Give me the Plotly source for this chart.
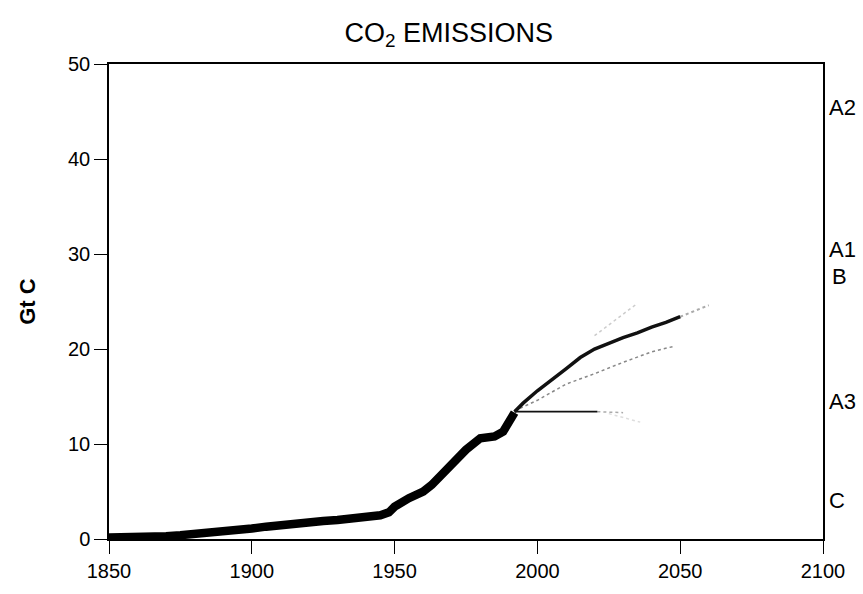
import plotly.graph_objects as go

# Historical emissions (Gt C)
hist_years = [1850, 1855, 1860, 1865, 1870, 1875, 1880, 1885, 1890, 1895, 1900, 1905,
              1910, 1915, 1920, 1925, 1930, 1935, 1940, 1945, 1948, 1950, 1955, 1960,
              1963, 1965, 1970, 1975, 1980, 1983, 1985, 1988, 1990, 1992]
hist_vals = [0.15, 0.15, 0.2, 0.25, 0.3, 0.4, 0.5, 0.6, 0.75, 0.9, 1.1, 1.3,
             1.5, 1.6, 1.8, 1.9, 2.0, 2.1, 2.3, 2.5, 2.8, 3.4, 4.3, 5.0,
             5.7, 6.3, 8.1, 9.4, 10.6, 10.7, 10.8, 11.3, 12.3, 13.3]

# Main projection (solid)
main_years = [1992, 1995, 2000, 2005, 2010, 2015, 2020, 2025, 2030, 2035, 2040, 2045, 2050]
main_vals = [13.4, 14.3, 15.6, 16.7, 17.9, 19.1, 20.0, 20.6, 21.2, 21.7, 22.3, 22.8, 23.4]
main_faint_years = [2050, 2055, 2060]
main_faint_vals = [23.4, 24.0, 24.6]

# Middle (dotted) projection
mid_years = [1992, 2000, 2010, 2020, 2030, 2040, 2048]
mid_vals = [13.5, 14.6, 16.3, 17.4, 18.6, 19.7, 20.3]

# Flat projection
flat_years = [1992, 2021]
flat_vals = [13.4, 13.4]
flat_faint_years = [2021, 2030]
flat_faint_vals = [13.4, 13.3]

# Faint upper projection
up_years = [2020, 2028, 2035]
up_vals = [21.4, 23.2, 24.8]

# Faint lower projection
low_years = [2025, 2036]
low_vals = [13.2, 12.3]

# Scenario labels on right
scen_labels = ["A2", "A1", "B", "A3", "C"]
scen_y = [45.4, 30.5, 27.6, 14.5, 4.1]

x_ticks = [1850, 1900, 1950, 2000, 2050, 2100]
y_ticks = [0, 10, 20, 30, 40, 50]

FONT = "Liberation Sans, Arial, Helvetica, sans-serif"
fig = go.Figure()

fig.add_trace(go.Scatter(x=up_years, y=up_vals, mode="lines",
                         line=dict(color="#cccccc", width=1.5, dash="dot"), showlegend=False))
fig.add_trace(go.Scatter(x=low_years, y=low_vals, mode="lines",
                         line=dict(color="#dddddd", width=1.5, dash="dot"), showlegend=False))
fig.add_trace(go.Scatter(x=mid_years, y=mid_vals, mode="lines",
                         line=dict(color="#888888", width=1.5, dash="dot"), showlegend=False))
fig.add_trace(go.Scatter(x=flat_faint_years, y=flat_faint_vals, mode="lines",
                         line=dict(color="#aaaaaa", width=1.5, dash="dot"), showlegend=False))
fig.add_trace(go.Scatter(x=flat_years, y=flat_vals, mode="lines",
                         line=dict(color="#111111", width=1.8), showlegend=False))
fig.add_trace(go.Scatter(x=main_faint_years, y=main_faint_vals, mode="lines",
                         line=dict(color="#aaaaaa", width=2, dash="dot"), showlegend=False))
fig.add_trace(go.Scatter(x=main_years, y=main_vals, mode="lines",
                         line=dict(color="#111111", width=3.5), showlegend=False))
fig.add_trace(go.Scatter(x=hist_years, y=hist_vals, mode="lines",
                         line=dict(color="#000000", width=8.5), showlegend=False))

for lab, yv in zip(scen_labels, scen_y):
    fig.add_annotation(x=1, xref="paper", y=yv, yref="y", text=lab, showarrow=False,
                       xanchor="left", xshift=4 if lab != "B" else 7, yanchor="middle",
                       font=dict(family=FONT, size=22, color="#000"))

fig.update_layout(
    width=863, height=594,
    margin=dict(l=109, r=40, t=64, b=49),
    paper_bgcolor="white", plot_bgcolor="white",
    title=dict(text="CO<sub>2</sub> EMISSIONS", x=0.52, xanchor="center", y=0.946, yanchor="middle",
               font=dict(family=FONT, size=27, color="#000")),
    font=dict(family=FONT, size=19, color="#000"),
)
fig.update_xaxes(range=[1850, 2100], tickvals=x_ticks, ticks="outside", ticklen=13,
                 tickcolor="#000", tickwidth=1.3, showline=True, linecolor="#000", linewidth=1.5,
                 mirror=True, showgrid=False, zeroline=False,
                 tickfont=dict(family=FONT, size=20, color="#000"))
fig.update_yaxes(range=[0, 50], tickvals=y_ticks, ticks="outside", ticklen=13,
                 tickcolor="#000", tickwidth=1.3, showline=True, linecolor="#000", linewidth=1.5,
                 mirror=True, showgrid=False, zeroline=False,
                 title=dict(text="<b>Gt C</b>", standoff=26, font=dict(family=FONT, size=22, color="#000")),
                 tickfont=dict(family=FONT, size=20, color="#000"))

fig.write_html("out.html", config={"displayModeBar": False},
               post_script="document.body.style.margin='0';")
